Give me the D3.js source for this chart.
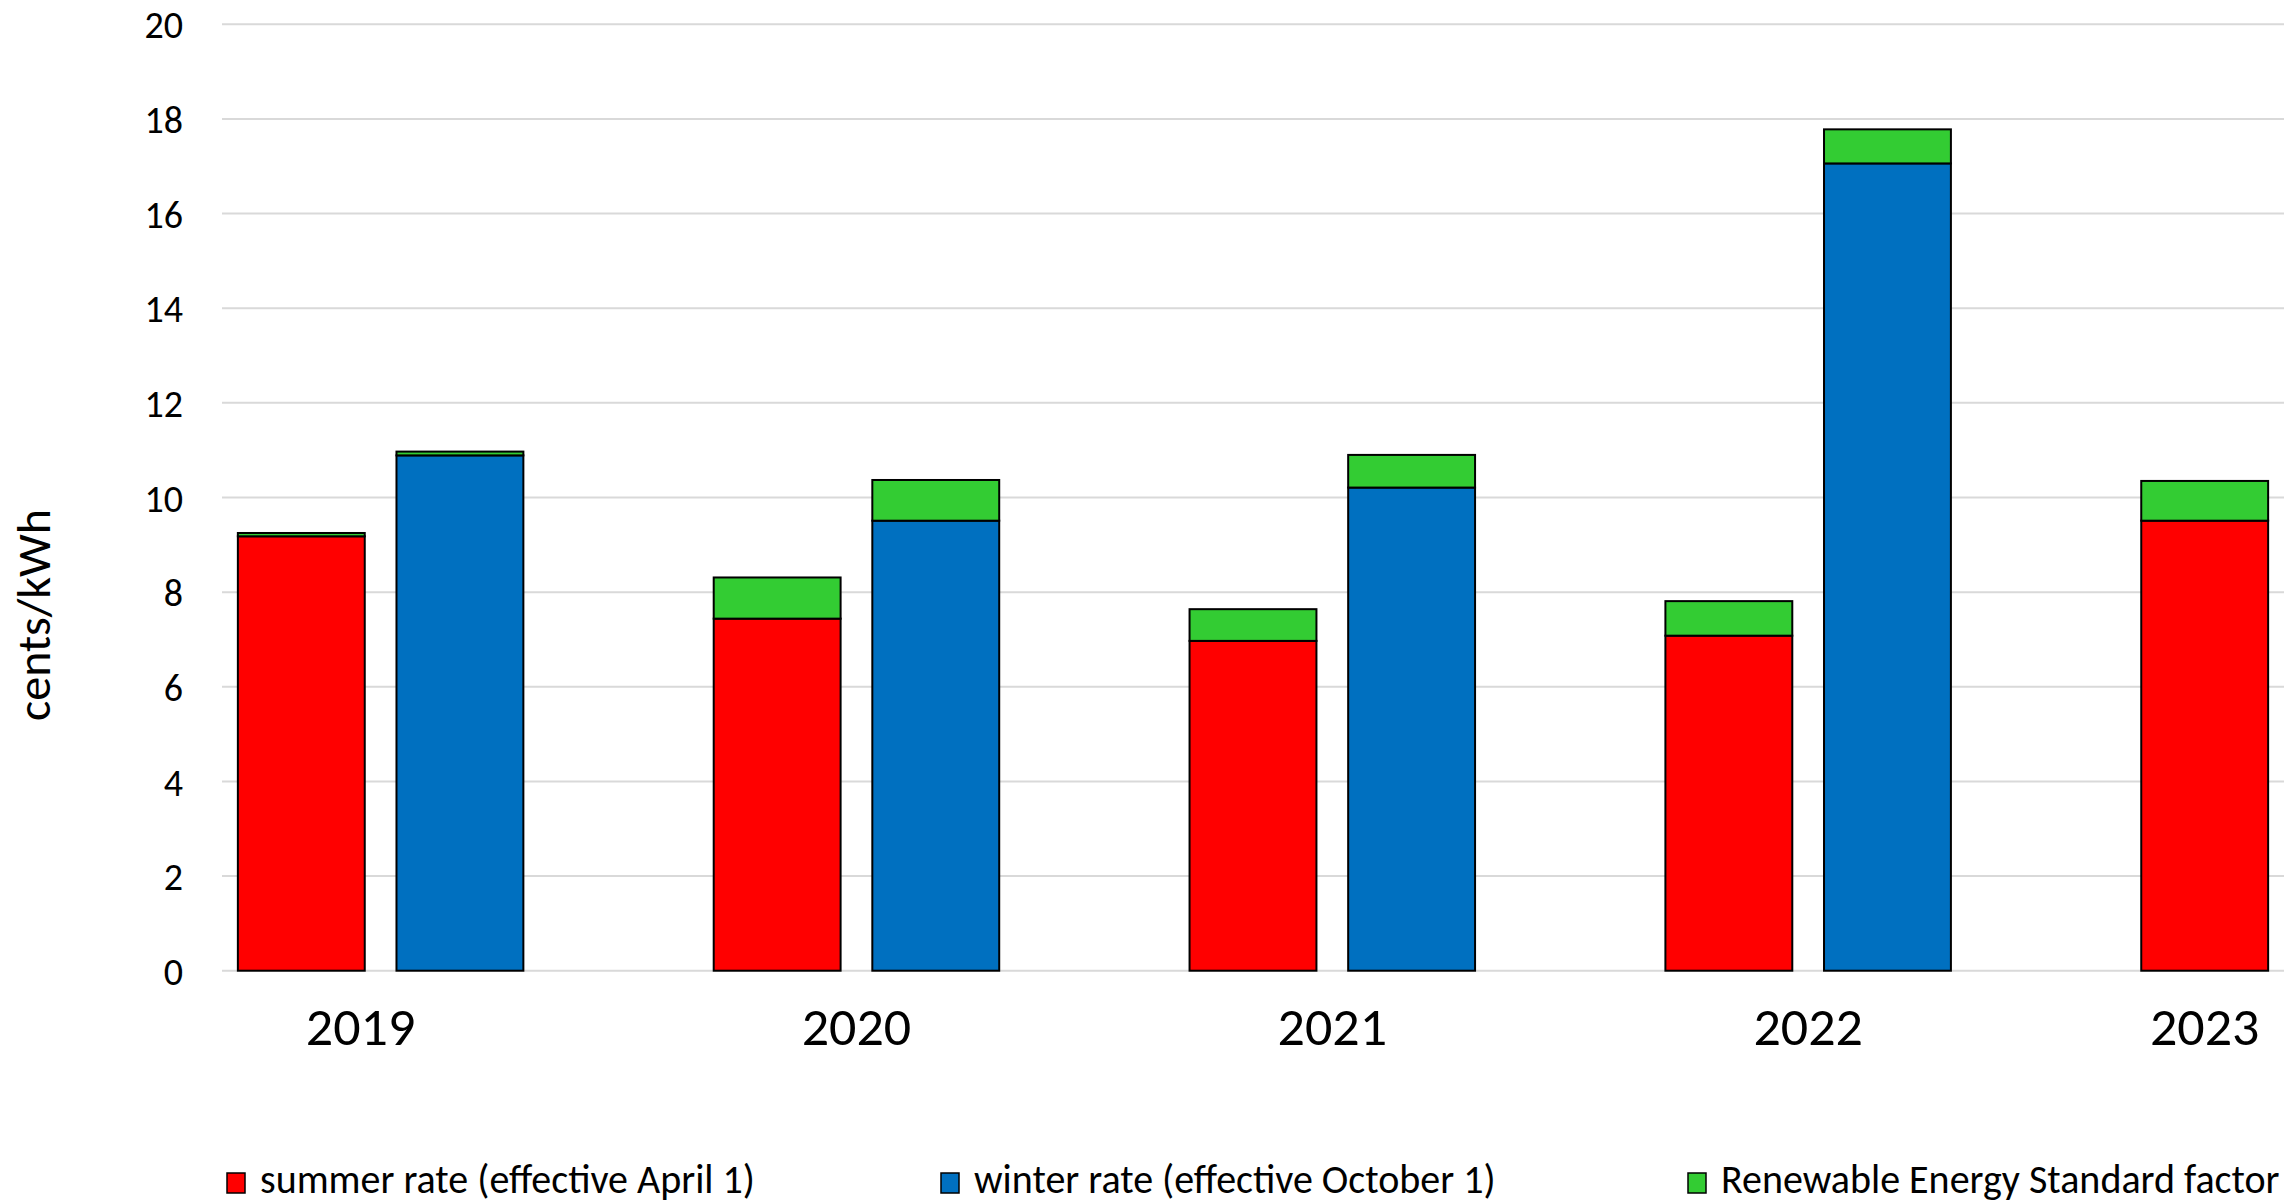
<!DOCTYPE html>
<html>
<head>
<meta charset="utf-8">
<script src="https://cdnjs.cloudflare.com/ajax/libs/d3/7.8.5/d3.min.js"></script>
<style>
body{margin:0;background:#fff;}
text{font-family:Carlito,Calibri,Lato,sans-serif;fill:#000;}
</style>
</head>
<body>
<div id="chart"></div>
<script>
// values, cents/kWh
var years=["2019","2020","2021","2022","2023"];
var summerRate=[9.18,7.44,6.97,7.08,9.51];
var winterRate=[10.89,9.51,10.21,17.06,null];
var resSummer=[0.07,0.87,0.67,0.73,0.84];
var resWinter=[0.08,0.86,0.69,0.72,null];
var yTicks=[0,2,4,6,8,10,12,14,16,18,20];
var seriesNames=["summer rate (effective April 1)","winter rate (effective October 1)","Renewable Energy Standard factor"];
var seriesColors=["#ff0000","#0070c0","#33cc33"];

(function draw(){
	var W=2296,H=1203;
	var pLeft=222,pRight=2284,pTop=24.3,pBottom=970.7;

	var svg=d3.select("#chart").append("svg").attr("width",W).attr("height",H);

	// slots: summer, winter, empty gap for each year
	var slots=[];
	years.forEach(function(yr,i){
		slots.push({key:"S"+yr,year:i,base:summerRate[i],res:resSummer[i],color:seriesColors[0]});
		if(winterRate[i]!=null){
			slots.push({key:"W"+yr,year:i,base:winterRate[i],res:resWinter[i],color:seriesColors[1]});
		}
		if(i<years.length-1) slots.push({key:"G"+yr,year:i,base:null});
	});

	var x=d3.scaleBand().domain(slots.map(function(s){return s.key;}))
		.range([pLeft,pRight]).paddingInner(0.2).paddingOuter(0.1);
	var y=d3.scaleLinear().domain([0,20]).range([pBottom,pTop]);

	// gridlines
	svg.append("g").selectAll("line").data(yTicks).enter().append("line")
		.attr("x1",pLeft).attr("x2",pRight)
		.attr("y1",function(d){return y(d);}).attr("y2",function(d){return y(d);})
		.attr("stroke","#d9d9d9").attr("stroke-width",2);

	// y axis labels
	var yAxis=d3.axisLeft(y).tickValues(yTicks).tickSize(0).tickPadding(0);
	var gy=svg.append("g").attr("transform","translate(183,0)").call(yAxis);
	gy.select(".domain").remove();
	gy.selectAll("text").style("font-size","38px").style("font-family","Carlito,Calibri,Lato,sans-serif").attr("dy","0.36em");

	svg.append("text")
		.attr("transform","translate(50,615) rotate(-90)")
		.attr("text-anchor","middle")
		.style("font-size","48px")
		.text("cents/kWh");

	var bars=slots.filter(function(s){return s.base!=null;});
	var g=svg.append("g");
	g.selectAll("rect.base").data(bars).enter().append("rect")
		.attr("class","base")
		.attr("x",function(d){return x(d.key);})
		.attr("width",x.bandwidth())
		.attr("y",function(d){return y(d.base);})
		.attr("height",function(d){return y(0)-y(d.base);})
		.attr("fill",function(d){return d.color;})
		.attr("stroke","#000").attr("stroke-width",2);
	g.selectAll("rect.res").data(bars).enter().append("rect")
		.attr("class","res")
		.attr("x",function(d){return x(d.key);})
		.attr("width",x.bandwidth())
		.attr("y",function(d){return y(d.base+d.res);})
		.attr("height",function(d){return y(d.base)-y(d.base+d.res);})
		.attr("fill",seriesColors[2])
		.attr("stroke","#000").attr("stroke-width",2);

	// year labels under each group
	svg.append("g").selectAll("text").data(years).enter().append("text")
		.attr("x",function(d,i){
			var c=bars.filter(function(b){return b.year==i;});
			var cx=d3.mean(c,function(b){return x(b.key)+x.bandwidth()/2;});
			return i==0 ? cx-20 : cx; // first label sits a bit left in the original
		})
		.attr("y",1045)
		.attr("text-anchor","middle")
		.style("font-size","54px")
		.text(function(d){return d;});

	// legend
	var legX=[227,941,1688];
	var leg=svg.append("g").selectAll("g").data(seriesNames).enter().append("g")
		.attr("transform",function(d,i){return "translate("+legX[i]+",1173)";});
	leg.append("rect").attr("width",18).attr("height",20)
		.attr("fill",function(d,i){return seriesColors[i];})
		.attr("stroke","#000").attr("stroke-width",1.5);
	leg.append("text").attr("x",33).attr("y",20)
		.style("font-size","40px")
		.text(function(d){return d;});
})();
</script>
</body>
</html>
